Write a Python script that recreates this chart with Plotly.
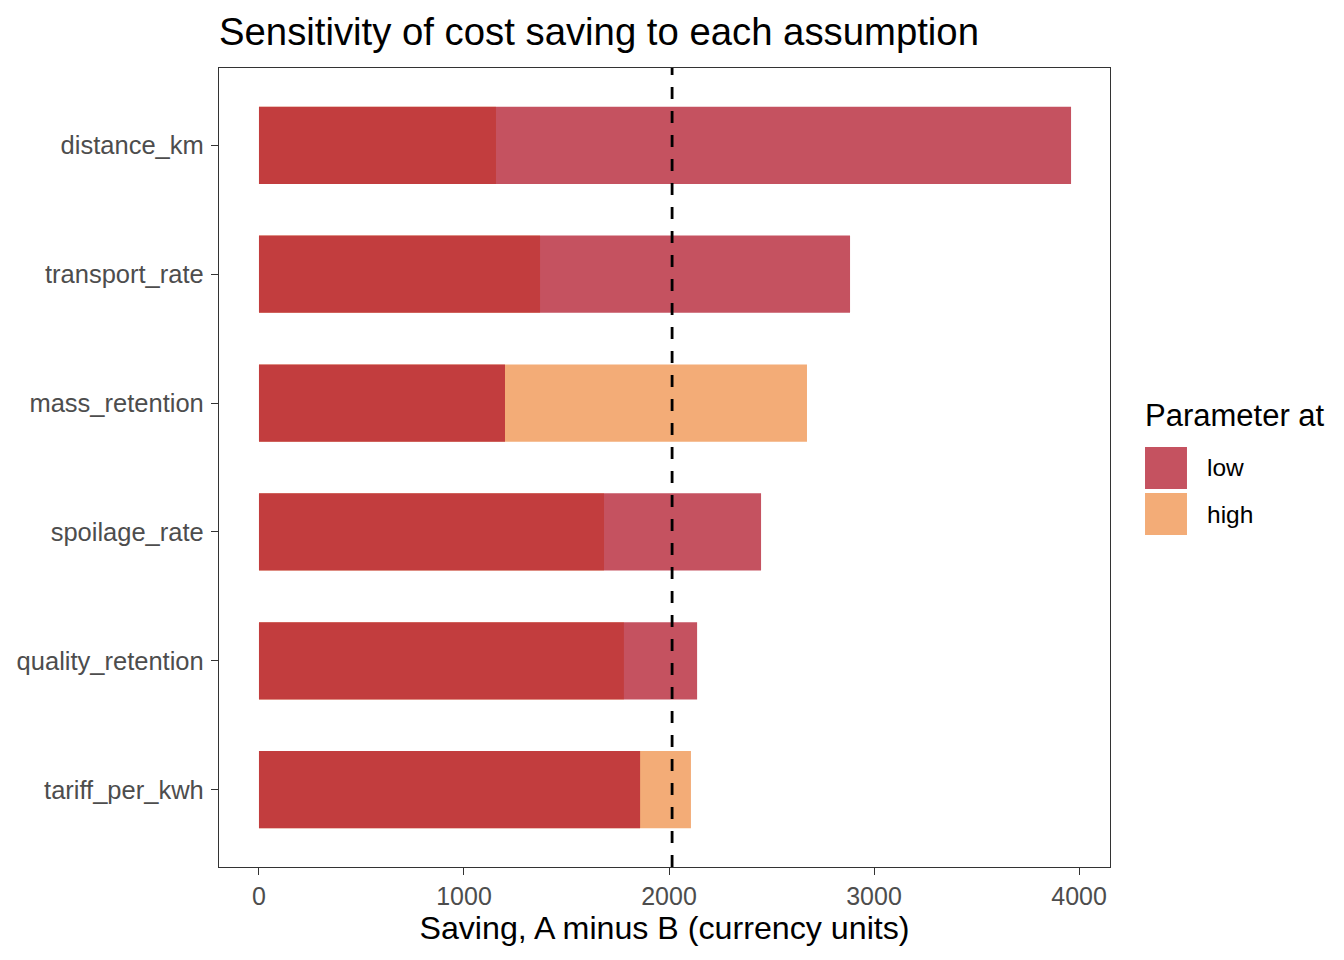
import plotly.graph_objects as go

# values
parameters = ['distance_km', 'transport_rate', 'mass_retention',
              'spoilage_rate', 'quality_retention', 'tariff_per_kwh']
saving_low = [3961, 2883, 1200, 2449, 2137, 1859]
saving_high = [1156, 1371, 2673, 1683, 1780, 2107]
base_saving = 2015
x_ticks = [0, 1000, 2000, 3000, 4000]

low_col = 'rgba(178,24,43,0.75)'
high_col = 'rgba(239,144,74,0.75)'
font = 'Liberation Sans, Arial, Helvetica, sans-serif'

fig = go.Figure()

# high drawn first, low on top -> overlap shows up darker
fig.add_trace(go.Bar(
    y=parameters, x=saving_high, orientation='h', name='high',
    marker=dict(color=high_col, line=dict(width=0)), width=0.6,
    showlegend=False,
))
fig.add_trace(go.Bar(
    y=parameters, x=saving_low, orientation='h', name='low',
    marker=dict(color=low_col, line=dict(width=0)), width=0.6,
    showlegend=False,
))

# base case reference line
fig.add_shape(type='line', xref='x', yref='paper', x0=base_saving, x1=base_saving,
              y0=0, y1=1, line=dict(color='black', width=2.8, dash='12px,12px'))

# hand-made legend (plotly's own keys are too small)
fig.add_annotation(xref='paper', yref='paper', x=1.037, y=0.5657, text='Parameter at',
                   showarrow=False, xanchor='left', yanchor='middle',
                   font=dict(family=font, size=31, color='black'))
keys = [('low', low_col, 0.5257, 0.4731), ('high', high_col, 0.4681, 0.4155)]
for lab, col, ytop, ybot in keys:
    fig.add_shape(type='rect', xref='paper', yref='paper', x0=1.0393, x1=1.0864,
                  y0=ybot, y1=ytop, fillcolor=col, line=dict(width=0))
    fig.add_annotation(xref='paper', yref='paper', x=1.1066, y=(ytop + ybot) / 2,
                       text=lab, showarrow=False, xanchor='left', yanchor='middle',
                       font=dict(family=font, size=24.5, color='black'))

# page is shown with an 8px body margin, so pull everything up/left by 8
fig.update_layout(
    width=1344, height=960,
    barmode='overlay',
    plot_bgcolor='white', paper_bgcolor='white',
    margin=dict(l=211, r=242, t=60, b=101, autoexpand=False),
    font=dict(family=font, color='black'),
    title=dict(text='Sensitivity of cost saving to each assumption',
               x=211 / 1344, xanchor='left', y=1 - 23.5 / 960, yanchor='middle',
               font=dict(family=font, size=38.3, color='black')),
    showlegend=False,
)
fig.update_xaxes(
    range=[-195, 4151], tickvals=x_ticks, showgrid=False, zeroline=False,
    showline=True, mirror=True, linecolor='#333333', linewidth=1.3,
    ticks='outside', ticklen=7, tickwidth=1.4, tickcolor='#333333',
    automargin=False,
    tickfont=dict(family=font, size=25, color='#4D4D4D'),
    title=dict(text='Saving, A minus B (currency units)', standoff=5,
               font=dict(family=font, size=32.2, color='black')),
)
fig.update_yaxes(
    categoryorder='array', categoryarray=parameters[::-1],
    range=[-0.6, 5.6], showgrid=False, zeroline=False,
    showline=True, mirror=True, linecolor='#333333', linewidth=1.3,
    ticks='outside', ticklen=7, tickwidth=1.4, tickcolor='#333333',
    ticklabelstandoff=2, automargin=False,
    tickfont=dict(family=font, size=25.5, color='#4D4D4D'),
)

fig.write_html('out.html')
